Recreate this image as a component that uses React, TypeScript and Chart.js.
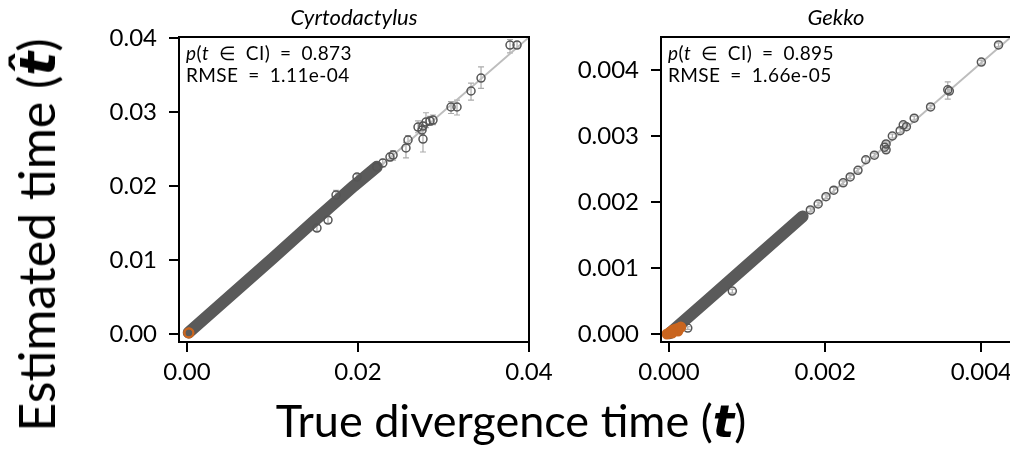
import React, { useEffect, useRef } from "react";
import { Chart, registerables } from "chart.js";
Chart.register(...registerables);

const FONT = "Lato, 'DejaVu Sans', sans-serif";

// ---------- Cyrtodactylus ----------
const cyrXTicks = [0, 0.02, 0.04];
const cyrYTicks = [0, 0.01, 0.02, 0.03, 0.04];
const cyrXRange = [-0.000936, 0.04];
const cyrYRange = [-0.00108, 0.04014];
const cyrRefLine = [[0, 0], [0.04, 0.0401]];
const cyrBand = [[0.0002, 0.0002], [0.005, 0.0051], [0.01, 0.0102], [0.015, 0.0154], [0.0195, 0.02], [0.0222, 0.0226]];
const cyrTrue = [0.0152, 0.01649, 0.01743, 0.01988, 0.0222, 0.0229, 0.02374, 0.0241, 0.02561, 0.02585, 0.02702, 0.02749, 0.0276, 0.0276, 0.02795, 0.02842, 0.02877, 0.03088, 0.03158, 0.03322, 0.03439, 0.03778, 0.0386];
const cyrEst = [0.01432, 0.0154, 0.01878, 0.02122, 0.02257, 0.02311, 0.02392, 0.02419, 0.02514, 0.02622, 0.02797, 0.02757, 0.02811, 0.02635, 0.02865, 0.02878, 0.02892, 0.03068, 0.03068, 0.03284, 0.03459, 0.03905, 0.03905];
const cyrLo = [0.0139, 0.015, 0.0182, 0.0208, 0.0221, 0.0226, 0.0234, 0.0235, 0.0238, 0.0256, 0.0272, 0.027, 0.0275, 0.0246, 0.0279, 0.0282, 0.0283, 0.0298, 0.0296, 0.0316, 0.0332, 0.038, 0.0386];
const cyrHi = [0.0147, 0.0158, 0.0194, 0.0216, 0.023, 0.0236, 0.0244, 0.0248, 0.0259, 0.0268, 0.0288, 0.0281, 0.0286, 0.0276, 0.0299, 0.0294, 0.0296, 0.0314, 0.0316, 0.0339, 0.0361, 0.0398, 0.0395];
const cyrOrangeTrue = [0.00023, 0.0002];
const cyrOrangeEst = [0.00014, 0.00016];

// ---------- Gekko ----------
const gekXTicks = [0, 0.002, 0.004];
const gekYTicks = [0, 0.001, 0.002, 0.003, 0.004];
const gekXRange = [-0.000103, 0.00438];
const gekYRange = [-0.000121, 0.0045];
const gekRefLine = [[0, 0], [0.00438, 0.0045]];
const gekBand = [[0.00001, 0.00001], [0.0005, 0.00052], [0.001, 0.00104], [0.00171, 0.00178]];
const gekTrue = [0.00024, 0.00081, 0.00181, 0.00191, 0.00201, 0.00211, 0.00223, 0.00232, 0.00242, 0.00252, 0.00263, 0.00276, 0.00278, 0.00278, 0.00286, 0.00296, 0.003, 0.00304, 0.00314, 0.00335, 0.00357, 0.00359, 0.004, 0.00422];
const gekEst = [0.00009, 0.00065, 0.00188, 0.00197, 0.00208, 0.00218, 0.00229, 0.00238, 0.00248, 0.00264, 0.00271, 0.00283, 0.00279, 0.00288, 0.003, 0.00308, 0.00317, 0.00314, 0.00327, 0.00344, 0.0037, 0.00368, 0.00412, 0.00438];
const gekLo = [0.00007, 0.00062, 0.00185, 0.00194, 0.00205, 0.00214, 0.00226, 0.00235, 0.00245, 0.0026, 0.00268, 0.0028, 0.00276, 0.00285, 0.00297, 0.00305, 0.00314, 0.00311, 0.00324, 0.00341, 0.00356, 0.00365, 0.00409, 0.00435];
const gekHi = [0.00011, 0.00068, 0.00191, 0.002, 0.00211, 0.00222, 0.00232, 0.00241, 0.00251, 0.00268, 0.00274, 0.00286, 0.00282, 0.00291, 0.00303, 0.00311, 0.0032, 0.00317, 0.0033, 0.00347, 0.00382, 0.00371, 0.00415, 0.00441];
const gekOrangeTrue = [-0.000026, 0.000013, 0.00005, 0.000089, 0.000127, 0.000114, 0.000038, 0.000151];
const gekOrangeEst = [0, 0.00003, 0.00006, 0.000076, 0.000091, 0.000045, 0.000015, 0.000106];

const toPts = (xs: number[], ys: number[]) => xs.map((x, i) => ({ x, y: ys[i] }));
const pairPts = (arr: number[][]) => arr.map(([x, y]) => ({ x, y }));

const boxPlugin = {
  id: "boxPlugin",
  afterDraw(chart: any) {
    const { ctx, chartArea: a } = chart;
    ctx.save();
    ctx.strokeStyle = "#000";
    ctx.lineWidth = 2;
    ctx.strokeRect(a.left, a.top, a.right - a.left, a.bottom - a.top);
    ctx.restore();
  },
};

const errPlugin = {
  id: "errPlugin",
  beforeDatasetsDraw(chart: any, _args: any, opts: any) {
    const { ctx, chartArea: a } = chart;
    const xs = chart.scales.x;
    const ys = chart.scales.y;
    ctx.save();
    ctx.beginPath();
    ctx.rect(a.left, a.top, a.right - a.left, a.bottom - a.top);
    ctx.clip();
    ctx.strokeStyle = "#ababab";
    ctx.lineWidth = 1.2;
    (opts.x || []).forEach((xv: number, i: number) => {
      const px = xs.getPixelForValue(xv);
      const p1 = ys.getPixelForValue(opts.lo[i]);
      const p2 = ys.getPixelForValue(opts.hi[i]);
      ctx.beginPath();
      ctx.moveTo(px, p1);
      ctx.lineTo(px, p2);
      ctx.moveTo(px - 3, p1);
      ctx.lineTo(px + 3, p1);
      ctx.moveTo(px - 3, p2);
      ctx.lineTo(px + 3, p2);
      ctx.stroke();
    });
    ctx.restore();
  },
};

type PanelProps = {
  left: number;
  width: number;
  yAxisWidth: number;
  padRight: number;
  xRange: number[];
  yRange: number[];
  xTicks: number[];
  yTicks: number[];
  xDec: number;
  yDec: number;
  refLine: number[][];
  band: number[][];
  tx: number[];
  ty: number[];
  lo: number[];
  hi: number[];
  ox: number[];
  oy: number[];
  orangeFill: boolean;
};

function Panel(p: PanelProps) {
  const ref = useRef<HTMLCanvasElement>(null);
  useEffect(() => {
    const tickFont = { family: FONT, size: 24 };
    const chart = new Chart(ref.current as HTMLCanvasElement, {
      type: "scatter",
      data: {
        datasets: [
          {
            type: "scatter",
            label: "orange",
            data: toPts(p.ox, p.oy),
            pointRadius: 4.5,
            pointBorderWidth: 2,
            borderColor: "#c9651f",
            backgroundColor: p.orangeFill ? "#c9651f" : "rgba(0,0,0,0)",
            order: 1,
          },
          {
            type: "scatter",
            label: "estimates",
            data: toPts(p.tx, p.ty),
            pointRadius: 4,
            pointBorderWidth: 1.5,
            borderColor: "#555555",
            backgroundColor: "rgba(0,0,0,0)",
            order: 2,
          },
          {
            type: "line",
            label: "band",
            data: pairPts(p.band),
            borderColor: "#5a5a5a",
            borderWidth: 12,
            borderCapStyle: "round",
            borderJoinStyle: "round",
            pointRadius: 0,
            showLine: true,
            order: 3,
          } as any,
          {
            type: "line",
            label: "ref",
            data: pairPts(p.refLine),
            borderColor: "#bdbdbd",
            borderWidth: 2,
            pointRadius: 0,
            showLine: true,
            order: 4,
          } as any,
        ],
      },
      options: {
        animation: false,
        responsive: false,
        layout: { padding: { left: 0, right: p.padRight, top: 37, bottom: 0 } },
        plugins: {
          legend: { display: false },
          tooltip: { enabled: false },
          errPlugin: { x: p.tx, lo: p.lo, hi: p.hi },
        } as any,
        scales: {
          x: {
            type: "linear",
            min: p.xRange[0],
            max: p.xRange[1],
            afterBuildTicks: (s: any) => {
              s.ticks = p.xTicks.map((v) => ({ value: v }));
            },
            afterFit: (s: any) => {
              s.height = 107;
              s.paddingLeft = 0;
              s.paddingRight = 0;
            },
            ticks: {
              autoSkip: false,
              maxRotation: 0,
              padding: 6,
              color: "#000",
              font: tickFont,
              callback: (v: any) => Number(v).toFixed(p.xDec),
            },
            grid: { display: true, drawOnChartArea: false, drawTicks: true, tickLength: 10, color: "#000", lineWidth: 2 },
            border: { display: false },
          },
          y: {
            type: "linear",
            min: p.yRange[0],
            max: p.yRange[1],
            afterBuildTicks: (s: any) => {
              s.ticks = p.yTicks.map((v) => ({ value: v }));
            },
            afterFit: (s: any) => {
              s.width = p.yAxisWidth;
              s.paddingTop = 0;
              s.paddingBottom = 0;
            },
            ticks: {
              autoSkip: false,
              padding: 12,
              color: "#000",
              font: tickFont,
              callback: (v: any) => Number(v).toFixed(p.yDec),
            },
            grid: { display: true, drawOnChartArea: false, drawTicks: true, tickLength: 10, color: "#000", lineWidth: 2 },
            border: { display: false },
          },
        },
      } as any,
      plugins: [boxPlugin, errPlugin],
    });
    return () => chart.destroy();
  }, []);
  return (
    <div style={{ position: "absolute", left: p.left, top: 0, width: p.width, height: 449 }}>
      <canvas ref={ref} width={p.width} height={449} style={{ display: "block" }} />
    </div>
  );
}

const tStyle: React.CSSProperties = { fontFamily: "'DejaVu Sans', sans-serif", fontWeight: "bold", fontStyle: "italic" };
const annStyle: React.CSSProperties = { position: "absolute", top: 42, fontSize: 19, lineHeight: "22px", letterSpacing: 0.4, whiteSpace: "nowrap" };
const SP = "\u2002";

export default function App() {
  return (
    <div
      style={{
        position: "fixed",
        left: 0,
        top: 0,
        width: 1010,
        height: 449,
        overflow: "hidden",
        background: "#fff",
        fontFamily: FONT,
        color: "#000",
      }}
    >
      <Panel
        left={0}
        width={600}
        yAxisWidth={179}
        padRight={71}
        xRange={cyrXRange}
        yRange={cyrYRange}
        xTicks={cyrXTicks}
        yTicks={cyrYTicks}
        xDec={2}
        yDec={2}
        refLine={cyrRefLine}
        band={cyrBand}
        tx={cyrTrue}
        ty={cyrEst}
        lo={cyrLo}
        hi={cyrHi}
        ox={cyrOrangeTrue}
        oy={cyrOrangeEst}
        orangeFill={false}
      />
      <Panel
        left={545}
        width={520}
        yAxisWidth={116}
        padRight={54}
        xRange={gekXRange}
        yRange={gekYRange}
        xTicks={gekXTicks}
        yTicks={gekYTicks}
        xDec={3}
        yDec={3}
        refLine={gekRefLine}
        band={gekBand}
        tx={gekTrue}
        ty={gekEst}
        lo={gekLo}
        hi={gekHi}
        ox={gekOrangeTrue}
        oy={gekOrangeEst}
        orangeFill={true}
      />
      {/* panel titles */}
      <div style={{ position: "absolute", left: 354, top: 17, transform: "translate(-50%,-50%)", fontSize: 22, fontStyle: "italic", lineHeight: 1, whiteSpace: "nowrap" }}>
        Cyrtodactylus
      </div>
      <div style={{ position: "absolute", left: 836, top: 17, transform: "translate(-50%,-50%)", fontSize: 22, fontStyle: "italic", lineHeight: 1, whiteSpace: "nowrap" }}>
        Gekko
      </div>
      {/* annotations */}
      <div style={{ ...annStyle, left: 186 }}>
        <div>
          <i>p</i>(<i>t</i>{SP}∈{SP}CI){SP}={SP}0.873
        </div>
        <div>RMSE{SP}={SP}1.11e-04</div>
      </div>
      <div style={{ ...annStyle, left: 668 }}>
        <div>
          <i>p</i>(<i>t</i>{SP}∈{SP}CI){SP}={SP}0.895
        </div>
        <div>RMSE{SP}={SP}1.66e-05</div>
      </div>
      {/* shared axis titles */}
      <div style={{ position: "absolute", left: 37, top: 235, transform: "translate(-50%,-50%) rotate(-90deg)", fontSize: 50, lineHeight: 1, whiteSpace: "nowrap" }}>
        Estimated time (<span style={tStyle}>t̂</span>)
      </div>
      <div style={{ position: "absolute", left: 511, top: 421, transform: "translate(-50%,-50%)", fontSize: 45, lineHeight: 1, whiteSpace: "nowrap" }}>
        True divergence time (<span style={tStyle}>t</span>)
      </div>
    </div>
  );
}
